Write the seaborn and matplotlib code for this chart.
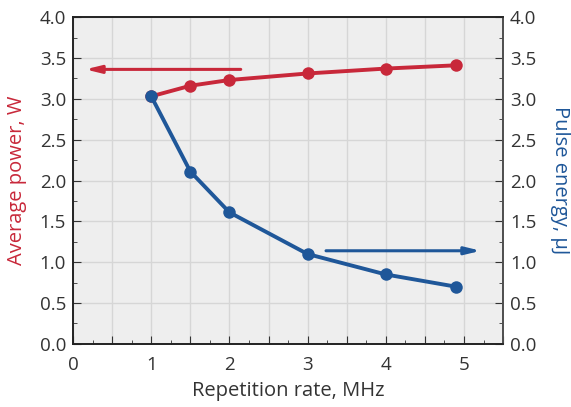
import numpy as np
import pandas as pd
import seaborn as sns
import matplotlib.pyplot as plt
from matplotlib.ticker import MultipleLocator, FuncFormatter

rep_rate = [1, 1.5, 2, 3, 4, 4.9]
avg_power = [3.03, 3.16, 3.23, 3.31, 3.37, 3.41]
pulse_energy = [3.03, 2.11, 1.61, 1.10, 0.85, 0.70]

red = '#c8283a'
blue = '#1f5799'

df = pd.DataFrame({'rate': rep_rate, 'power': avg_power, 'energy': pulse_energy})

sns.set_style('ticks')
plt.rcParams['font.family'] = ['Open Sans', 'DejaVu Sans']

fig, ax = plt.subplots(figsize=(5.71, 4.07), dpi=100)
fig.subplots_adjust(left=0.128, right=0.881, top=0.958, bottom=0.155)
ax2 = ax.twinx()

ax.set_facecolor('#eeeeee')
ax.set_zorder(ax2.get_zorder() - 1)
ax2.patch.set_visible(False)

sns.lineplot(data=df, x='rate', y='power', ax=ax2, color=red, marker='o',
             markersize=9, markeredgewidth=0, linewidth=2.8)
sns.lineplot(data=df, x='rate', y='energy', ax=ax2, color=blue, marker='o',
             markersize=9, markeredgewidth=0, linewidth=2.8)

# arrows pointing to respective axes
ax2.annotate('', xy=(0.12, 3.36), xytext=(2.18, 3.36),
             arrowprops=dict(arrowstyle='-|>,head_length=0.9,head_width=0.22',
                             color=red, lw=2.2))
ax2.annotate('', xy=(5.25, 1.14), xytext=(3.2, 1.14),
             arrowprops=dict(arrowstyle='-|>,head_length=0.9,head_width=0.22',
                             color=blue, lw=2.2))

for a in (ax, ax2):
    a.set_ylim(0, 4)
    a.yaxis.set_major_locator(MultipleLocator(0.5))
    a.yaxis.set_minor_locator(MultipleLocator(0.25))
    a.yaxis.set_major_formatter(FuncFormatter(lambda v, p: f'{v:.1f}'))
ax.set_xlim(0, 5.5)
ax.xaxis.set_major_locator(MultipleLocator(0.5))
ax.xaxis.set_minor_locator(MultipleLocator(0.25))
ax.xaxis.set_major_formatter(FuncFormatter(lambda v, p: f'{v:.0f}' if abs(v - round(v)) < 1e-6 else ''))

ax.grid(True, which='major', color='#d6d6d6', linewidth=1)
ax.tick_params(axis='both', which='both', direction='in', colors='#333333',
               labelsize=13.5, labelcolor='#333333')
ax.tick_params(which='major', length=6)
ax.tick_params(which='minor', length=3)
ax.tick_params(axis='y', right=False, pad=5)
ax.tick_params(axis='x', pad=9)
ax2.tick_params(axis='y', which='both', direction='in', colors='#333333',
                labelsize=13.5, labelcolor='#333333', pad=5)
ax2.tick_params(which='major', length=6)
ax2.tick_params(which='minor', length=3)

for a in (ax, ax2):
    for s in a.spines.values():
        s.set_color('#222222')
        s.set_linewidth(1.2)
ax2.spines['right'].set_color('#555555')

ax.set_xlabel('Repetition rate, MHz', fontsize=14.5, color='#333333', labelpad=5)
ax.set_ylabel('Average power, W', fontsize=14.5, color=red, labelpad=9)
ax2.set_ylabel('Pulse energy, μJ', fontsize=14.5, color=blue, rotation=270, labelpad=24)

plt.savefig('out.png', dpi=100)
